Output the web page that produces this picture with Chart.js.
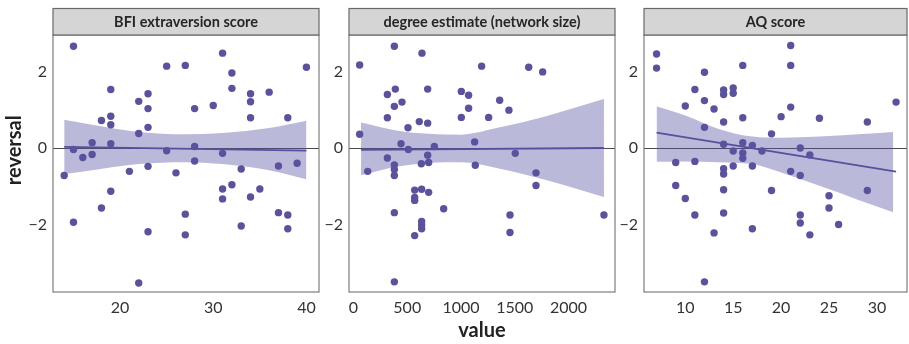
<!DOCTYPE html>
<html>
<head>
<meta charset="utf-8">
<script src="https://cdn.jsdelivr.net/npm/chart.js@4.4.0/dist/chart.umd.min.js"></script>
<style>
  html, body { margin: 0; padding: 0; background: #fff; }
  #wrap { position: relative; width: 909px; height: 344px; overflow: hidden; }
  #wrap canvas { position: absolute; top: 0; }
</style>
</head>
<body>
<div id="wrap">
  <canvas id="panel-bfi" width="330" height="344" style="left:0px"></canvas>
  <canvas id="panel-degree" width="310" height="344" style="left:320px"></canvas>
  <canvas id="panel-aq" width="296" height="344" style="left:615px"></canvas>
</div>
<script>
// ──────────────────────────────────────────────────
// reversal vs. value — three facets, points + lm fit
// ──────────────────────────────────────────────────

const yTicks = [-2, 0, 2];

// ─── BFI extraversion score ──────────────────────
const bfiTitle = 'BFI extraversion score';
const bfiTicks = [20, 30, 40];
const bfiX = [15, 19, 18, 19, 19, 17, 19, 15, 16, 17, 14, 19, 18, 15, 22, 23, 23, 23, 22, 21, 23, 23, 22, 25, 27, 28, 25, 26, 28, 28, 27, 27, 31, 32, 32, 30, 34, 34, 34, 36, 31, 33, 31, 31, 32, 34, 35, 33, 38, 37, 39, 37, 38, 38, 40];
const bfiY = [2.66, 1.53, 0.72, 0.83, 0.61, 0.14, 0.11, -0.04, -0.25, -0.17, -0.72, -1.13, -1.57, -1.94, 1.22, 1.42, 1.03, 0.54, 0.38, -0.61, -0.48, -2.19, -3.53, 2.14, 2.16, 1.03, -0.07, -0.65, 0.04, -0.34, -1.73, -2.27, 2.48, 1.96, 1.56, 1.11, 1.42, 1.21, 0.79, 1.46, -0.14, -0.55, -1.07, -1.33, -0.96, -1.28, -1.07, -2.04, 0.79, -0.47, -0.40, -1.69, -1.75, -2.11, 2.11];
const bfiFitX = [14, 40];
const bfiFitY = [0.03, -0.07];
const bfiBandX = [14, 17, 22, 27, 31, 36, 40];
const bfiBandHi = [0.74, 0.61, 0.42, 0.36, 0.39, 0.52, 0.71];
const bfiBandLo = [-0.68, -0.58, -0.42, -0.37, -0.42, -0.58, -0.82];

// ─── degree estimate (network size) ──────────────
const degTitle = 'degree estimate (network size)';
const degTicks = [0, 500, 1000, 1500, 2000];
const degX = [57, 57, 132, 380, 315, 389, 380, 315, 451, 507, 442, 510, 315, 380, 380, 380, 380, 380, 637, 612, 690, 690, 690, 699, 631, 752, 569, 634, 699, 569, 569, 634, 634, 634, 569, 839, 1003, 1071, 1071, 1003, 1257, 1192, 1127, 1133, 1360, 1446, 1505, 1630, 1760, 1698, 1698, 1456, 1456, 2330];
const degY = [2.17, 0.36, -0.61, 2.66, 1.40, 1.54, 1.09, 0.79, 1.20, 0.53, 0.11, -0.04, -0.26, -0.44, -0.56, -0.72, -1.69, -3.50, 2.48, 0.69, 1.54, 0.65, -0.19, -0.38, -0.41, 0.04, -1.10, -1.08, -1.16, -1.29, -1.37, -1.92, -2.01, -2.11, -2.29, -1.59, 1.48, 1.38, 1.04, 0.80, 0.80, 2.14, 0.16, -0.45, 1.25, 0.99, -0.14, 2.11, 1.99, -0.65, -0.98, -1.75, -2.21, -1.75];
const degFitX = [70, 2330];
const degFitY = [-0.05, 0.0];
const degBandX = [70, 400, 700, 1000, 1330, 1800, 2330];
const degBandHi = [0.67, 0.46, 0.37, 0.35, 0.52, 0.84, 1.28];
const degBandLo = [-0.71, -0.49, -0.39, -0.37, -0.52, -0.84, -1.28];

// ─── AQ score ────────────────────────────────────
const aqTitle = 'AQ score';
const aqTicks = [10, 15, 20, 25, 30];
const aqX = [7, 7, 9, 9, 10, 10, 11, 11, 11, 12, 12, 12, 12, 13, 13, 14, 14, 14, 14, 14, 14, 14, 14, 15, 15, 15, 15, 16, 16, 16, 16, 16, 17, 17, 17, 18, 19, 19, 20, 21, 21, 21, 21, 22, 22, 22, 22, 23, 23, 24, 25, 25, 26, 29, 29, 32];
const aqY = [2.46, 2.09, -0.38, -0.98, 1.10, -1.32, 1.53, -0.35, -1.75, 1.98, 1.24, 0.54, -3.50, 1.02, -2.22, 1.52, 1.40, 0.68, 0.10, -0.54, -0.68, -1.09, -1.70, 1.57, 1.43, -0.08, -0.47, 2.16, 0.79, 0.14, -0.13, -0.27, 0.07, -0.47, -2.11, -0.08, 0.37, -1.11, 0.82, 2.68, 2.16, 1.07, -0.61, 0.00, -0.72, -1.75, -1.96, -0.18, -2.27, 0.78, -1.25, -1.57, -2.00, 0.68, -1.11, 1.20];
const aqFitX = [7, 32];
const aqFitY = [0.40, -0.62];
const aqBandX = [7, 10, 13.5, 17, 20, 24, 28, 31.7];
const aqBandHi = [1.09, 0.85, 0.50, 0.30, 0.27, 0.30, 0.36, 0.42];
const aqBandLo = [-0.36, -0.35, -0.37, -0.42, -0.64, -0.99, -1.35, -1.68];

// ─── Colours ─────────────────────────────────────
const POINT_COLOR = '#5a529e';
const LINE_COLOR = '#55509f';
const BAND_FILL = 'rgba(85, 80, 160, 0.40)';
const FONT = 'Lato';

const toXY = (xs, ys) => xs.map((x, i) => ({ x, y: ys[i] }));
const fmt = v => (v < 0 ? '\u2212' + Math.abs(v) : String(v));

// zero line under the data, strip + border on top
const panelDecor = {
  id: 'panelDecor',
  beforeDatasetsDraw(chart) {
    const { ctx, chartArea: a, scales: { y } } = chart;
    const y0 = Math.round(y.getPixelForValue(0)) + 0.5;
    ctx.save();
    ctx.strokeStyle = '#4a4a4a';
    ctx.lineWidth = 1;
    ctx.beginPath();
    ctx.moveTo(a.left, y0);
    ctx.lineTo(a.right, y0);
    ctx.stroke();
    ctx.restore();
  },
  afterDraw(chart, args, opts) {
    const { ctx, chartArea: a } = chart;
    const w = a.right - a.left;
    ctx.save();
    ctx.strokeStyle = '#7d7d7d';
    ctx.lineWidth = 1.2;
    ctx.strokeRect(a.left, a.top, w, a.bottom - a.top);

    const top = 8.5;
    const h = a.top - top;
    ctx.fillStyle = '#d5d5d5';
    ctx.fillRect(a.left, top, w, h);
    ctx.strokeStyle = '#6a6a6a';
    ctx.lineWidth = 1.2;
    ctx.strokeRect(a.left, top, w, h);

    ctx.fillStyle = '#262626';
    ctx.font = `bold 14.5px ${FONT}`;
    ctx.textAlign = 'center';
    ctx.textBaseline = 'middle';
    ctx.fillText(opts.title, a.left + w / 2, top + h / 2 + 0.5);

    // y title is centred on panels + strips, like the facet layout
    if (opts.yTitle) {
      ctx.translate(15, (top + a.bottom) / 2);
      ctx.rotate(-Math.PI / 2);
      ctx.fillStyle = '#222';
      ctx.font = `bold 20px ${FONT}`;
      ctx.fillText(opts.yTitle, 0, 0);
    }
    ctx.restore();
  },
};

function makePanel(id, p) {
  const ctx = document.getElementById(id);
  return new Chart(ctx, {
    type: 'scatter',
    data: {
      datasets: [
        {
          data: toXY(p.xs, p.ys),
          backgroundColor: POINT_COLOR,
          borderWidth: 0,
          pointRadius: 3.7,
          order: 0,
        },
        {
          type: 'line',
          data: toXY(p.fitX, p.fitY),
          borderColor: LINE_COLOR,
          borderWidth: 1.8,
          pointRadius: 0,
          fill: false,
          order: 1,
        },
        {
          type: 'line',
          data: toXY(p.bandX, p.bandHi),
          borderColor: 'rgba(0,0,0,0)',
          backgroundColor: BAND_FILL,
          pointRadius: 0,
          tension: 0.4,
          cubicInterpolationMode: 'monotone',
          fill: '+1',
          order: 2,
        },
        {
          type: 'line',
          data: toXY(p.bandX, p.bandLo),
          borderColor: 'rgba(0,0,0,0)',
          pointRadius: 0,
          tension: 0.4,
          cubicInterpolationMode: 'monotone',
          fill: false,
          order: 3,
        },
      ],
    },
    options: {
      responsive: false,
      animation: false,
      layout: { padding: { top: 35, right: p.padRight, left: 0, bottom: 0 } },
      plugins: {
        legend: { display: false },
        tooltip: { enabled: false },
        panelDecor: { title: p.title, yTitle: p.yTitle },
      },
      scales: {
        x: {
          type: 'linear',
          min: p.xMin,
          max: p.xMax,
          grid: { display: false, drawTicks: false },
          border: { display: false },
          afterBuildTicks: s => { s.ticks = p.ticks.map(v => ({ value: v })); },
          afterFit: s => { s.height = 52; },
          ticks: { font: { family: FONT, size: 16 }, color: '#333', padding: 6, maxRotation: 0, autoSkip: false, callback: fmt },
          title: {
            display: !!p.xTitle,
            text: p.xTitle || '',
            font: { family: FONT, size: 20, weight: 'bold' },
            color: '#222',
            padding: { top: 0, bottom: 1 },
          },
        },
        y: {
          min: -3.765,
          max: 2.955,
          grid: { display: false, drawTicks: false },
          border: { display: false },
          afterBuildTicks: s => { s.ticks = yTicks.map(v => ({ value: v })); },
          afterFit: s => { s.width = p.yWidth; },
          ticks: { font: { family: FONT, size: 16 }, color: '#333', padding: 6, callback: fmt },
        },
      },
    },
    plugins: [panelDecor],
  });
}

makePanel('panel-bfi', {
  title: bfiTitle, xs: bfiX, ys: bfiY, ticks: bfiTicks,
  fitX: bfiFitX, fitY: bfiFitY, bandX: bfiBandX, bandHi: bfiBandHi, bandLo: bfiBandLo,
  xMin: 12.8, xMax: 41.35, yWidth: 53, padRight: 11, yTitle: 'reversal',
});

makePanel('panel-degree', {
  title: degTitle, xs: degX, ys: degY, ticks: degTicks,
  fitX: degFitX, fitY: degFitY, bandX: degBandX, bandHi: degBandHi, bandLo: degBandLo,
  xMin: -42, xMax: 2433, yWidth: 29, padRight: 15, xTitle: 'value',
});

makePanel('panel-aq', {
  title: aqTitle, xs: aqX, ys: aqY, ticks: aqTicks,
  fitX: aqFitX, fitY: aqFitY, bandX: aqBandX, bandHi: aqBandHi, bandLo: aqBandLo,
  xMin: 5.69, xMax: 33.14, yWidth: 29, padRight: 1,
});
</script>
</body>
</html>
